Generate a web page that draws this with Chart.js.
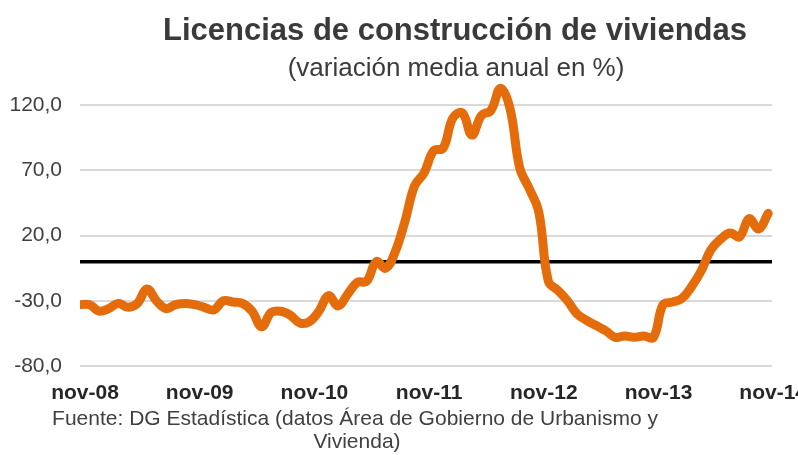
<!DOCTYPE html>
<html>
<head>
<meta charset="utf-8">
<script src="https://cdn.jsdelivr.net/npm/chart.js@4/dist/chart.umd.min.js"></script>
<style>
  html, body { margin: 0; padding: 0; background: #fff; }
</style>
</head>
<body>
<canvas id="chart" width="798" height="455"></canvas>
<script>
const months = [
  "nov-08", "dic-08",
  "ene-09", "feb-09", "mar-09", "abr-09", "may-09", "jun-09", "jul-09", "ago-09", "sep-09", "oct-09", "nov-09", "dic-09",
  "ene-10", "feb-10", "mar-10", "abr-10", "may-10", "jun-10", "jul-10", "ago-10", "sep-10", "oct-10", "nov-10", "dic-10",
  "ene-11", "feb-11", "mar-11", "abr-11", "may-11", "jun-11", "jul-11", "ago-11", "sep-11", "oct-11", "nov-11", "dic-11",
  "ene-12", "feb-12", "mar-12", "abr-12", "may-12", "jun-12", "jul-12", "ago-12", "sep-12", "oct-12", "nov-12", "dic-12",
  "ene-13", "feb-13", "mar-13", "abr-13", "may-13", "jun-13", "jul-13", "ago-13", "sep-13", "oct-13", "nov-13", "dic-13",
  "ene-14", "feb-14", "mar-14", "abr-14", "may-14", "jun-14", "jul-14", "ago-14", "sep-14", "oct-14", "nov-14",
];

// variación media anual (%)
const licencias = [
  -33, -33, -38, -36, -32, -35, -32, -21, -30, -36, -33, -32,
  -33, -35, -37, -30, -31, -32, -38, -50, -39, -38, -41, -47,
  -46, -38, -26, -34, -25, -16, -15, 0, -5, 8, 31, 58,
  68, 85, 87, 110, 114, 97, 112, 116, 133, 117, 72, 56,
  38, -15, -22, -30, -40, -45, -49, -53, -58, -57, -58, -57,
  -58, -33, -31, -28, -19, -7, 9, 17, 22, 19, 33, 25,
  37,
];

const xTickLabels = ["nov-08", "nov-09", "nov-10", "nov-11", "nov-12", "nov-13", "nov-14"];
const yTicks = [-80, -30, 20, 70, 120];
const baseline = 0;

const title = "Licencias de construcción de viviendas";
const subtitle = "(variación media anual en %)";
const source = [
  "Fuente: DG Estadística (datos Área de Gobierno de Urbanismo y",
  "Vivienda)",
];

const FONT = "'Liberation Sans', Arial, sans-serif";
const fmt = (v) => v.toFixed(1).replace(".", ",");

const textPlugin = {
  id: "texts",
  afterDraw(chart) {
    const ctx = chart.ctx;
    ctx.save();
    ctx.textAlign = "center";
    ctx.textBaseline = "alphabetic";
    ctx.fillStyle = "#3a3a3a";
    ctx.font = `bold 31px ${FONT}`;
    ctx.fillText(title, 455, 40);
    ctx.font = `26px ${FONT}`;
    ctx.fillText(subtitle, 456, 76);
    ctx.fillStyle = "#404040";
    ctx.font = `21px ${FONT}`;
    ctx.fillText(source[0], 355, 425);
    ctx.fillText(source[1], 357, 448);
    ctx.restore();
  },
};

const ctx = document.getElementById("chart").getContext("2d");
new Chart(ctx, {
  type: "line",
  data: {
    datasets: [
      {
        label: "Licencias",
        data: licencias.map((v, i) => ({ x: i, y: v })),
        borderColor: "#E46C0A",
        backgroundColor: "transparent",
        borderWidth: 9,
        pointRadius: 0,
        tension: 0.4,
        borderCapStyle: "round",
        borderJoinStyle: "round",
        clip: { left: 0, top: false, right: false, bottom: false },
      },
    ],
  },
  options: {
    animation: false,
    responsive: false,
    events: [],
    layout: { padding: { top: 79, right: 26, bottom: 0, left: 0 } },
    plugins: {
      legend: { display: false },
      tooltip: { enabled: false },
    },
    scales: {
      x: {
        type: "linear",
        min: 0,
        max: 72.4,
        grid: { display: false, drawTicks: false },
        border: { display: false },
        afterBuildTicks: (s) => {
          s.ticks = xTickLabels.map((l) => ({ value: months.indexOf(l) }));
        },
        afterFit: (s) => {
          s.height = 89;
          s.paddingLeft = 0;
          s.paddingRight = 0;
        },
        ticks: {
          autoSkip: false,
          maxRotation: 0,
          padding: 15,
          labelOffset: 5,
          color: "#262626",
          font: { family: FONT, size: 21, weight: "bold" },
          callback: (v) => months[v],
        },
      },
      y: {
        min: -80,
        max: 140,
        border: { display: false },
        afterBuildTicks: (s) => {
          s.ticks = [...yTicks, baseline].sort((a, b) => a - b).map((v) => ({ value: v }));
        },
        afterFit: (s) => {
          s.width = 80;
        },
        grid: {
          drawTicks: false,
          color: (c) => (c.tick.value === baseline ? "#000" : "#d9d9d9"),
          lineWidth: (c) => (c.tick.value === baseline ? 3.5 : 2),
        },
        ticks: {
          padding: 18,
          color: "#404040",
          font: { family: FONT, size: 21 },
          callback: (v) => (v === baseline ? "" : fmt(v)),
        },
      },
    },
  },
  plugins: [textPlugin],
});
</script>
</body>
</html>
